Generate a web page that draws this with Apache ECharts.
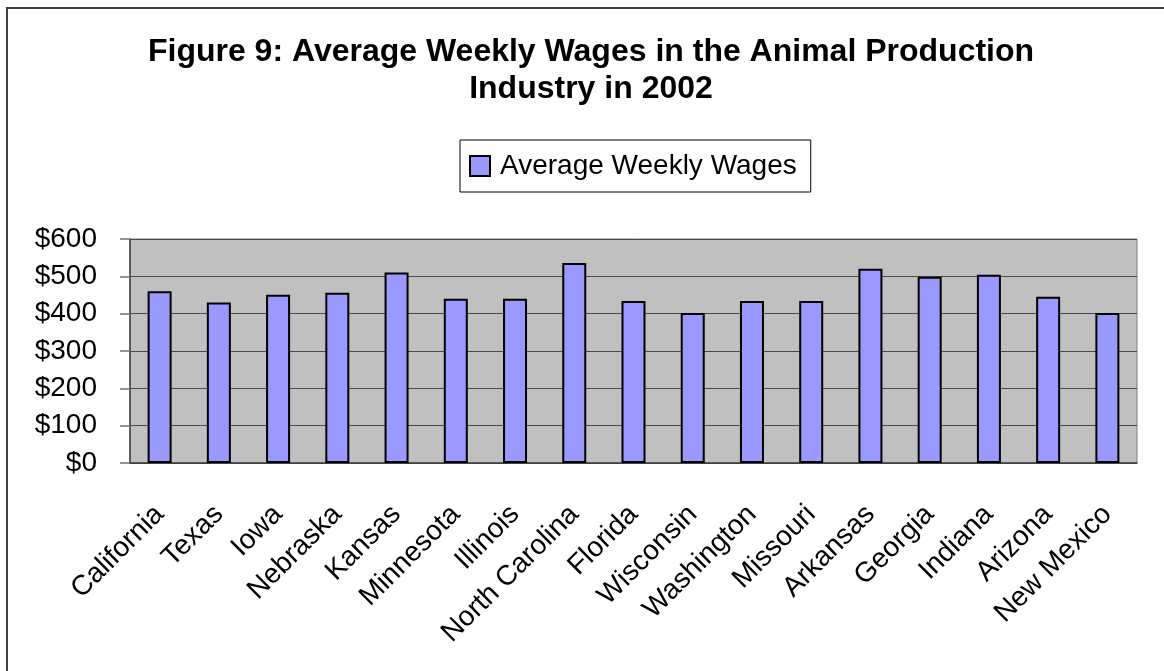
<!DOCTYPE html>
<html>
<head>
<meta charset="utf-8">
<script src="https://cdn.jsdelivr.net/npm/echarts@6/dist/echarts.min.js"></script>
<style>
  html, body { margin: 0; padding: 0; background: #fff; }
  #main { width: 1164px; height: 671px; }
</style>
</head>
<body>
<div id="main"></div>
<script>
// data
var states = ['California', 'Texas', 'Iowa', 'Nebraska', 'Kansas', 'Minnesota', 'Illinois',
  'North Carolina', 'Florida', 'Wisconsin', 'Washington', 'Missouri', 'Arkansas', 'Georgia',
  'Indiana', 'Arizona', 'New Mexico'];
var wages = [460, 430, 451, 456, 510, 440, 440, 536, 434, 402, 434, 434, 520, 499, 504, 445, 402];
var yTicks = [0, 100, 200, 300, 400, 500, 600];

var FONT = '"Liberation Sans", Arial, sans-serif';

var myChart = echarts.init(document.getElementById('main'));
myChart.setOption({
    backgroundColor: '#ffffff',
    animation: false,
    title: {
        text: 'Figure 9: Average Weekly Wages in the Animal Production\nIndustry in 2002',
        left: 591,
        top: 34,
        textAlign: 'center',
        padding: 0,
        textStyle: {
            fontFamily: FONT,
            fontSize: 32,
            fontWeight: 'bold',
            color: '#000',
            lineHeight: 37
        }
    },
    legend: {
        left: 460,
        top: 140,
        padding: [10, 14, 10, 9],
        itemWidth: 20,
        itemHeight: 20,
        icon: 'rect',
        backgroundColor: '#fff',
        borderColor: '#000',
        borderWidth: 1,
        borderRadius: 0,
        textStyle: {
            fontFamily: FONT,
            fontSize: 28,
            color: '#000',
            lineHeight: 32,
            padding: [0, 0, 0, 5]
        },
        data: ['Average Weekly Wages']
    },
    grid: {
        left: 130,
        top: 239,
        right: 27,
        bottom: 208,
        show: true,
        backgroundColor: '#c0c0c0',
        borderColor: '#808080',
        borderWidth: 1
    },
    xAxis: {
        type: 'category',
        data: states,
        axisLine: { lineStyle: { color: '#404040', width: 1.5 } },
        axisTick: { length: 10, lineStyle: { color: '#707070', width: 1.5 } },
        axisLabel: {
            rotate: 45,
            interval: 0,
            margin: 47,
            fontFamily: FONT,
            fontSize: 28,
            color: '#000'
        }
    },
    yAxis: {
        type: 'value',
        min: yTicks[0],
        max: yTicks[yTicks.length - 1],
        interval: 100,
        axisLine: { show: true, lineStyle: { color: '#404040', width: 1.5 } },
        axisTick: { show: true, length: 10, lineStyle: { color: '#707070', width: 1.5 } },
        splitLine: { lineStyle: { color: '#4a4a4a', width: 1.2 } },
        axisLabel: {
            margin: 33,
            fontFamily: FONT,
            fontSize: 28,
            color: '#000',
            formatter: function (v) { return '$' + v; }
        }
    },
    series: [{
        name: 'Average Weekly Wages',
        type: 'bar',
        data: wages,
        barWidth: 24,
        itemStyle: {
            color: '#9999ff',
            borderColor: '#000',
            borderWidth: 2
        }
    }],
    graphic: [{
        type: 'rect',
        shape: { x: 7, y: 8, width: 1180, height: 700 },
        style: { fill: null, stroke: '#404040', lineWidth: 2 },
        silent: true
    }]
});
</script>
</body>
</html>
